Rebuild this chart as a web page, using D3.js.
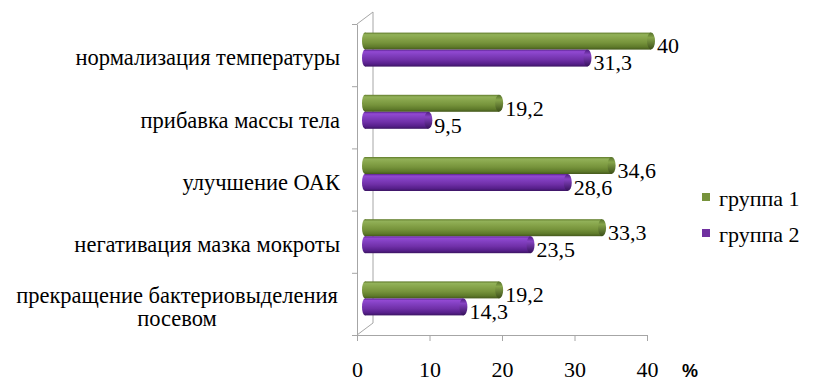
<!DOCTYPE html>
<html><head><meta charset="utf-8">
<script src="https://cdn.jsdelivr.net/npm/d3@7"></script>
<style>
body{margin:0;background:#fff}
svg{display:block;font-family:"Liberation Serif","Times New Roman",serif}
svg text{font-family:"Liberation Serif","Times New Roman",serif}
svg text.pct{font-family:"Liberation Sans",Arial,sans-serif;font-weight:bold}
</style>
</head><body>
<svg id="c" width="813" height="384"></svg>
<script>
const categories = ["нормализация температуры","прибавка массы тела","улучшение ОАК","негативация мазка мокроты","прекращение бактериовыделения посевом"];
const categoryLines = [["нормализация температуры"],["прибавка массы тела"],["улучшение ОАК"],["негативация мазка мокроты"],["прекращение бактериовыделения","посевом"]];
const seriesNames = ["группа 1","группа 2"];
const group1 = [40, 19.2, 34.6, 33.3, 19.2];
const group2 = [31.3, 9.5, 28.6, 23.5, 14.3];
const xTicks = [0,10,20,30,40];
const valueLabels1 = ["40","19,2","34,6","33,3","19,2"];
const valueLabels2 = ["31,3","9,5","28,6","23,5","14,3"];

const svg = d3.select("#c");
const x = d3.scaleLinear().domain([0,40]).range([357,647]);
const xBar = d3.scaleLinear().domain([0,40]).range([363,655]);
const y = d3.scaleBand().domain(categories).range([24,335]);
const dx = 16, dy = -12; // depth offset

const defs = svg.append("defs");
function grad(id, stops){
  const g = defs.append("linearGradient").attr("id",id).attr("x1",0).attr("y1",0).attr("x2",0).attr("y2",1);
  stops.forEach(s=>g.append("stop").attr("offset",s[0]).attr("stop-color",s[1]));
}
grad("gG",[[0,"#5f7a2a"],[0.12,"#92b159"],[0.3,"#88a64c"],[0.6,"#76933b"],[0.85,"#5e7a2a"],[1,"#45591c"]]);
grad("gP",[[0,"#5a2290"],[0.12,"#9249d2"],[0.3,"#8340c2"],[0.6,"#7030a8"],[0.85,"#561f8a"],[1,"#3c1563"]]);
grad("gGc",[[0,"#55702a"],[0.3,"#86a44a"],[1,"#3b4e18"]]);
grad("gPc",[[0,"#4e1c80"],[0.3,"#8643c2"],[1,"#35115a"]]);

// walls
const wall = svg.append("g").attr("stroke","#a6a6a6").attr("stroke-width",1).attr("fill","none");
wall.append("line").attr("x1",x(0)+dx).attr("x2",x(0)+dx).attr("y1",24+dy).attr("y2",335+dy);
wall.append("line").attr("x1",x(0)).attr("x2",x(0)+dx).attr("y1",24).attr("y2",24+dy);
wall.append("line").attr("x1",x(0)).attr("x2",x(0)+dx).attr("y1",335).attr("y2",335+dy);

// axes
const yAxis = svg.append("g").attr("transform",`translate(${x(0)},0)`)
  .call(d3.axisLeft(y).tickValues([]).tickSizeOuter(0));
yAxis.attr("font-family",null);
yAxis.select(".domain").attr("stroke","#a6a6a6");
const bounds = categories.map(c=>y(c)).concat([y.range()[1]]);
svg.append("g").selectAll("line").data(bounds).join("line")
  .attr("x1",x(0)-5).attr("x2",x(0)).attr("y1",d=>d+0.5).attr("y2",d=>d+0.5).attr("stroke","#a6a6a6");

const xAxis = svg.append("g").attr("transform","translate(0,335)")
  .call(d3.axisBottom(x).tickValues(xTicks).tickSize(6).tickSizeOuter(0).tickPadding(20));
xAxis.attr("font-family",null).attr("font-size",null);
xAxis.select(".domain").attr("stroke","#a6a6a6");
xAxis.selectAll(".tick line").attr("stroke","#a6a6a6");
xAxis.selectAll(".tick text").style("font-size","22px").attr("fill","#000");

svg.append("text").attr("class","pct").attr("x",682).attr("y",377).style("font-size","18px").text("%");

// category labels
const catG = svg.append("g").style("font-size","22.5px").attr("fill","#000");
categoryLines.forEach((lines,i)=>{
  const cy = y(categories[i]) + y.bandwidth()/2 + 2.5;
  if(lines.length===1){
    catG.append("text").attr("x",340).attr("y",cy).attr("dy","0.35em").attr("text-anchor","end").text(lines[0]);
  } else {
    const t = catG.append("text").attr("text-anchor","middle");
    t.append("tspan").attr("x",177).attr("y",cy-11.5).attr("dy","0.35em").text(lines[0]);
    t.append("tspan").attr("x",177).attr("y",cy+11.5).attr("dy","0.35em").text(lines[1]);
  }
});

// bars
const bh = 17;
function drawBars(vals, labels, k, fillId, capId){
  const g = svg.append("g");
  vals.forEach((v,i)=>{
    const cy = y(categories[i]) + y.bandwidth()/2 - 5.5;
    const top = k===0 ? cy - bh : cy;
    const x0 = xBar(0), x1 = xBar(v) - 4;
    g.append("ellipse").attr("cx",x0+2).attr("cy",top+bh/2).attr("rx",3).attr("ry",bh/2).attr("fill",`url(#${fillId})`);
    g.append("rect").attr("x",x0+2).attr("y",top).attr("width",x1-x0-2).attr("height",bh).attr("fill",`url(#${fillId})`);
    g.append("ellipse").attr("cx",x1).attr("cy",top+bh/2).attr("rx",4).attr("ry",bh/2).attr("fill",`url(#${capId})`);
    g.append("text").attr("x",x1+6).attr("y",top+bh/2+4.5).attr("dy","0.35em")
      .style("font-size","22px").attr("fill","#000").text(labels[i]);
  });
}
drawBars(group1, valueLabels1, 0, "gG", "gGc");
drawBars(group2, valueLabels2, 1, "gP", "gPc");

// legend
const lg = svg.append("g");
const lcolors = ["#77933c","#7030a0"];
seriesNames.forEach((n,i)=>{
  const ly = 197 + i*36;
  lg.append("rect").attr("x",702).attr("y",ly-4).attr("width",8).attr("height",8).attr("fill",lcolors[i]);
  lg.append("text").attr("x",719).attr("y",ly+1).attr("dy","0.35em").style("font-size","22px").text(n);
});
</script>
</body></html>
